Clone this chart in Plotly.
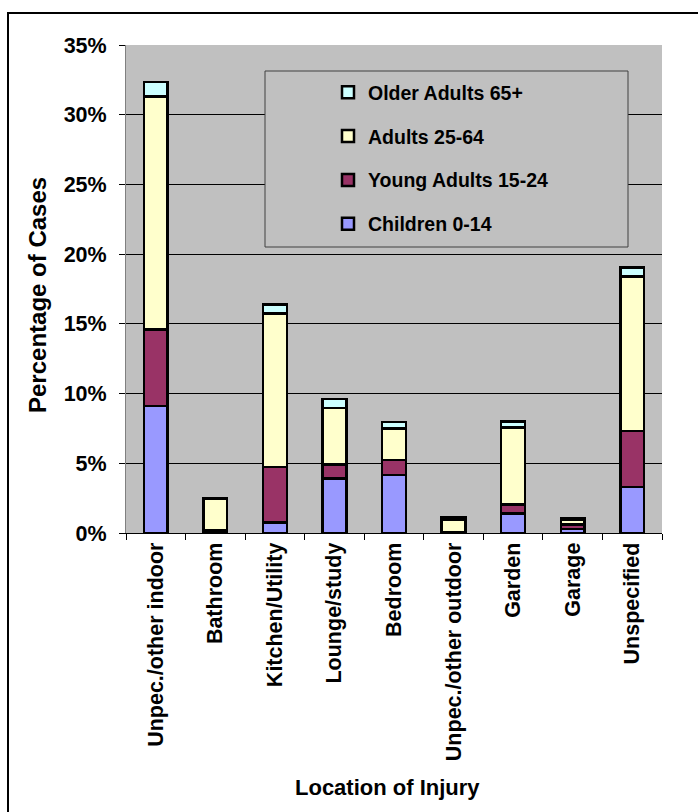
import plotly.graph_objects as go

# Location of injury categories
categories = [
    "Unpec./other indoor", "Bathroom", "Kitchen/Utility", "Lounge/study",
    "Bedroom", "Unpec./other outdoor", "Garden", "Garage", "Unspecified",
]

# Percentage of cases by age group (stacked)
children_0_14 = [9.1, 0.05, 0.75, 3.9, 4.15, 0.03, 1.4, 0.3, 3.3]
young_adults_15_24 = [5.5, 0.15, 4.0, 1.0, 1.1, 0.05, 0.65, 0.3, 4.0]
adults_25_64 = [16.7, 2.25, 11.0, 4.05, 2.25, 0.9, 5.5, 0.35, 11.1]
older_adults_65 = [1.05, 0.05, 0.65, 0.65, 0.45, 0.12, 0.45, 0.08, 0.65]

series = [
    ("Children 0-14", children_0_14, "#9999FF"),
    ("Young Adults 15-24", young_adults_15_24, "#993366"),
    ("Adults 25-64", adults_25_64, "#FFFFCC"),
    ("Older Adults 65+", older_adults_65, "#CCFFFF"),
]

FONT = "Liberation Sans, Arial, sans-serif"

fig = go.Figure()
for i, (name, vals, color) in enumerate(series):
    fig.add_trace(go.Bar(
        x=categories, y=vals, name=f"<b>{name}</b>",
        legendgroup=f"g{i}", legendrank=len(series) - i,
        marker=dict(color=color, line=dict(color="black", width=2.5)),
        width=0.4,
    ))

# plot area in pixels: x 126..662, y 45..533
L, R, T, B = 126, 662, 45, 533
W, H = 698, 812
pw, ph = R - L, B - T


def px_x(px):
    return (px - L) / pw


def px_y(py):
    return (B - py) / ph


shapes = [
    # legend frame
    dict(type="rect", xref="paper", yref="paper",
         x0=px_x(265), x1=px_x(628), y0=px_y(247), y1=px_y(71),
         line=dict(color="#404040", width=1), fillcolor="#C0C0C0",
         layer="above"),
    # outer chart frame
    dict(type="rect", xref="paper", yref="paper",
         x0=px_x(8), x1=px_x(760), y0=px_y(900), y1=px_y(13),
         line=dict(color="black", width=2), fillcolor="rgba(0,0,0,0)",
         layer="above"),
]

annotations = [
    dict(text="<b>Percentage of Cases</b>", xref="paper", yref="paper",
         x=px_x(37), y=px_y(295), textangle=-90, showarrow=False,
         font=dict(family=FONT, size=24, color="black"),
         xanchor="center", yanchor="middle"),
    dict(text="<b>Location of Injury</b>", xref="paper", yref="paper",
         x=px_x(387), y=px_y(787), showarrow=False,
         font=dict(family=FONT, size=22, color="black"),
         xanchor="center", yanchor="middle"),
]

fig.update_layout(
    width=W, height=H,
    barmode="stack",
    margin=dict(l=L, r=W - R, t=T, b=H - B, pad=0),
    paper_bgcolor="white",
    plot_bgcolor="#C0C0C0",
    font=dict(family=FONT, size=21, color="black"),
    showlegend=True,
    legend=dict(
        x=px_x(328), y=px_y(73), xanchor="left", yanchor="top",
        traceorder="grouped", tracegroupgap=15.5,
        bgcolor="rgba(0,0,0,0)", borderwidth=0,
        font=dict(family=FONT, size=19.5, color="black"),
    ),
    shapes=shapes,
    annotations=annotations,
)

fig.update_yaxes(
    range=[0, 35], dtick=5, ticksuffix="%",
    showgrid=True, gridcolor="black", gridwidth=1,
    ticks="outside", ticklen=6, tickcolor="black",
    showline=True, linecolor="#808080", linewidth=1,
    tickfont=dict(family=FONT, size=21.5, color="black"),
    tickprefix="<b>", zeroline=False, mirror=False,
    ticklabelstandoff=8,
)
fig.update_xaxes(
    type="category", tickangle=-90,
    ticks="outside", ticklen=6, tickcolor="black", tickson="boundaries",
    showline=True, linecolor="black", linewidth=1,
    tickfont=dict(family=FONT, size=21.5, color="black"),
    tickprefix="<b>", showgrid=False,
)

fig.write_html("out.html")
